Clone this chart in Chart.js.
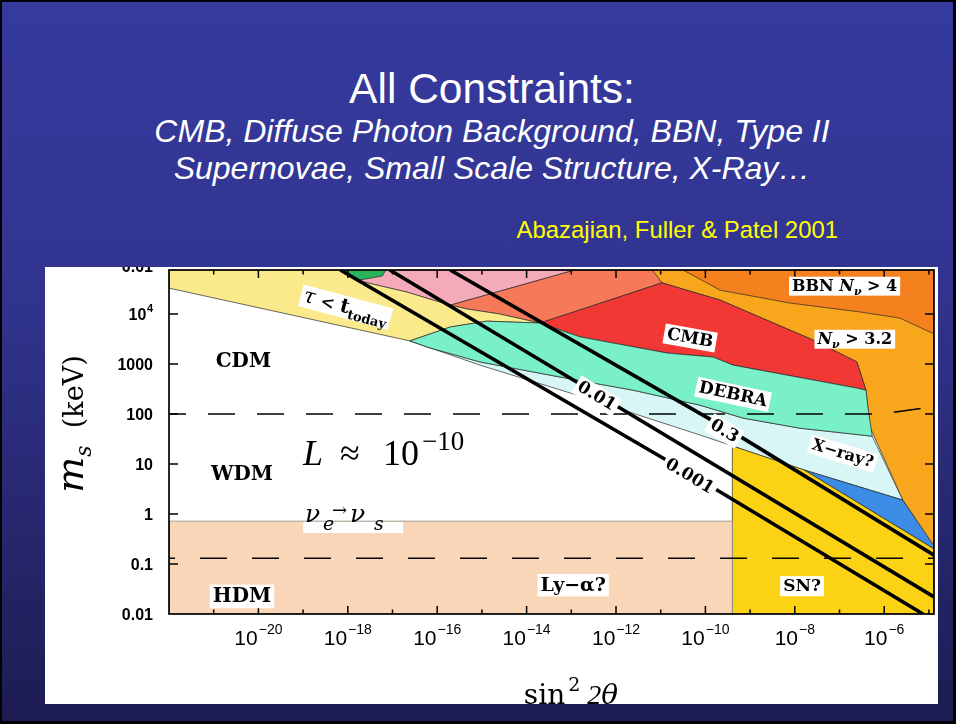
<!DOCTYPE html>
<html>
<head>
<meta charset="utf-8">
<title>All Constraints</title>
<script src="https://cdn.jsdelivr.net/npm/chart.js@4.4.1/dist/chart.umd.min.js"></script>
<style>
  html, body { margin: 0; padding: 0; width: 956px; height: 724px; overflow: hidden; background: #000; }
  #slide { position: absolute; left: 2px; top: 2px; width: 951px; height: 719px;
           background: linear-gradient(to bottom, #363a9e 0%, #31348f 40%, #1d1c52 100%); }
  .txt { position: absolute; left: 0; width: 984px; text-align: center; line-height: 1;
         font-family: "Liberation Sans", Arial, sans-serif; color: #fff; white-space: nowrap; }
  .it { font-style: italic; }
  #cite { width: 838px; text-align: right; color: #ffff00; }
  #panel { position: absolute; left: 45px; top: 267px; width: 893px; height: 437px; background: #fff; }
  #panel canvas { display: block; }
</style>
</head>
<body>
<div id="slide"></div>
<div class="txt" style="top:68px;font-size:42.5px">All Constraints:</div>
<div class="txt it" style="top:115px;font-size:32px">CMB, Diffuse Photon Background, BBN, Type II</div>
<div class="txt it" style="top:152px;font-size:32px">Supernovae, Small Scale Structure, X-Ray…</div>
<div class="txt" id="cite" style="top:218px;font-size:23.9px">Abazajian, Fuller &amp; Patel 2001</div>
<div id="panel"><canvas id="chart" width="893" height="437"></canvas></div>

<script>
// Axis extents: mixing sin^2(2θ) horizontally, sterile mass m_s (keV) vertically
const X_MIN = 1e-22, X_MAX = 1.3e-5;
const Y_MIN = 0.01, Y_MAX = 7.6e4;

// Tick decades and tick labels
const xDecades = [-22, -21, -20, -19, -18, -17, -16, -15, -14, -13, -12, -11, -10, -9, -8, -7, -6, -5];
const xLabelled = [-20, -18, -16, -14, -12, -10, -8, -6];
const yDecades = [0.01, 0.1, 1, 10, 100, 1000, 10000];
const yLabels = ['0.01', '0.1', '1', '10', '100', '1000', '10^4'];
const yTopLabel = '0.01';

// Excluded / labelled regions, each point is [sin^2 2θ, m_s in keV]
const nuOver32 = [[5.75e-12, 7.6e4], [1.3e-5, 7.6e4], [1.3e-5, 0.22], [2.6e-6, 1.9], [4.8e-7, 55], [3.9e-7, 300],
                  [2.45e-7, 1100], [2.6e-8, 3000], [2.14e-10, 1.9e4], [1.07e-11, 4.2e4]];
const bbnOver4 = [[3.16e-11, 7.6e4], [1.3e-5, 7.6e4], [1.3e-5, 4000], [2.24e-6, 8300], [2.9e-7, 1.1e4],
                  [7.8e-9, 1.66e4], [2.14e-10, 3.0e4]];
const cmbPink = [[6.8e-19, 7.6e4], [1.2e-13, 7.6e4], [1.95e-16, 1.5e4], [2.1e-17, 2.75e4], [2.2e-18, 4.4e4]];
const cmbSalmon = [[1.95e-16, 1.5e4], [1.2e-13, 7.6e4], [6.5e-12, 7.6e4], [1.07e-11, 4.2e4], [2.0e-14, 6600],
                   [2.5e-15, 1.0e4], [4.7e-16, 1.26e4]];
const cmbRed = [[2.0e-14, 6600], [1.07e-11, 4.2e4], [2.14e-10, 1.9e4], [2.6e-8, 3000], [2.45e-7, 1100], [3.9e-7, 300],
                [2.45e-7, 330], [4.2e-10, 950], [1.48e-10, 1380], [1.38e-11, 1660], [1.55e-13, 3500]];
const tauToday = [[1e-22, 7.6e4], [6.8e-19, 7.6e4], [2.2e-18, 4.4e4], [2.1e-17, 2.75e4], [1.95e-16, 1.5e4],
                  [4.7e-16, 1.26e4], [2.5e-15, 1.0e4], [2.0e-14, 6600], [1.29e-15, 7200], [1.95e-16, 5500],
                  [2.45e-17, 2900], [1e-22, 3.3e4]];
const debra = [[2.45e-17, 2900], [1.95e-16, 5500], [1.29e-15, 7200], [2.0e-14, 6600], [1.55e-13, 3500],
               [1.38e-11, 1660], [1.48e-10, 1380], [4.2e-10, 950], [2.45e-7, 330], [3.9e-7, 300], [4.4e-7, 120],
               [5.4e-7, 36], [1.32e-8, 52], [6.9e-10, 83], [7.6e-11, 150], [2.4e-12, 300], [5.6e-14, 550],
               [9.1e-16, 1100], [6.9e-17, 2100]];
const xrayFaint = [[2.45e-17, 2900], [9.1e-16, 950], [1.55e-13, 230], [7.6e-11, 38], [4.0e-10, 23], [1.62e-8, 7.6],
                   [2.6e-6, 1.9], [5.4e-7, 36], [1.32e-8, 52], [6.9e-10, 83], [7.6e-11, 150], [2.4e-12, 300],
                   [5.6e-14, 550], [9.1e-16, 1100], [6.9e-17, 2100]];
const xrayBlue = [[1.62e-8, 7.6], [2.6e-6, 1.9], [1.3e-5, 0.23], [1.3e-5, 0.2]];
const supernova = [[4.0e-10, 0.01], [4.0e-10, 23], [1.62e-8, 7.6], [1.3e-5, 0.2], [1.3e-5, 0.01]];
const lyAlpha = [[1e-22, 0.01], [4.0e-10, 0.01], [4.0e-10, 0.72], [1e-22, 0.72]];
const greenTop = [[9.1e-19, 7.6e4], [7.1e-18, 7.6e4], [5.9e-18, 5.75e4], [1.86e-18, 4.8e4], [1.23e-18, 5.5e4]];

// Contours of Ω_s h² for L ≈ 1e-10
const omega03 = [[1.95e-16, 7.6e4], [6.9e-10, 33], [1.3e-5, 0.15]];
const omega001 = [[8.7e-18, 7.6e4], [4.4e-13, 230], [1.3e-5, 0.022]];
const omega0001 = [[6.8e-19, 7.6e4], [4.6e-11, 6.3], [7.4e-6, 0.01]];

// CDM / WDM and WDM / HDM divides
const cdmWdm = [[1e-22, 100], [8.1e-7, 100], [1.3e-5, 140]];
const wdmHdm = [[1e-22, 0.13], [1.3e-5, 0.13]];

// Anchors for the text on the plot, [sin^2 2θ, m_s]
const notes = {
  cdm: [4.6e-21, 1200], wdm: [4.3e-21, 6.6], hdm: [4.3e-21, 0.024],
  lya: [1.1e-13, 0.04], sn: [1.45e-8, 0.038], cmb: [4.6e-11, 3500], debra: [4.2e-10, 260],
  xray: [1.2e-7, 17], bbn: [1.3e-7, 3.8e4], nu32: [2.2e-7, 3300], tau: [9.1e-19, 1.45e4],
  asym: [1e-19, 9.5], osc: [1e-19, 0.69],
  o03: [2.75e-10, 48], o001: [3.8e-13, 240], o0001: [4.6e-11, 6.0]
};

const toXY = pts => pts.map(p => ({ x: p[0], y: p[1] }));

function region(pts, colour, order, edge) {
  return {
    data: toXY(pts.concat([pts[0]])), showLine: true, fill: 'shape',
    backgroundColor: colour, borderColor: edge || 'rgba(35,35,35,0.85)', borderWidth: 0.8,
    pointRadius: 0, tension: 0, order, clip: 0
  };
}
function curve(pts, width, order, dash, dashOffset) {
  return {
    data: toXY(pts), showLine: true, fill: false, borderColor: '#000', borderWidth: width,
    borderDash: dash || [], borderDashOffset: dashOffset || 0,
    pointRadius: 0, tension: 0, order, clip: 0
  };
}

// back to front
const layers = [
  [nuOver32, '#f8a61c'], [bbnOver4, '#f4801e'], [cmbPink, '#f4aab9'], [cmbSalmon, '#f67a5a'],
  [cmbRed, '#f23834'], [tauToday, '#faea8c'], [xrayFaint, '#d8f6f6'], [debra, '#7af0c8'],
  [xrayBlue, '#3c8ce6'], [supernova, '#fcd214'], [lyAlpha, '#fad6b8', '#8d8d8d'], [greenTop, '#28b45a']
];
const datasets = layers.map((l, i) => region(l[0], l[1], 100 - i, l[2]));
datasets.push(curve(cdmWdm, 1.5, 2, [27, 22], 10));
datasets.push(curve(wdmHdm, 1.5, 2, [27, 25], 21));
datasets.push(curve(omega03, 3.6, 1));
datasets.push(curve(omega001, 3.6, 1));
datasets.push(curve(omega0001, 3.6, 1));

const SERIF = '"DejaVu Serif", serif';
const TIMES = '"Liberation Serif", "Times New Roman", serif';
const SANS = '"Liberation Sans", Arial, sans-serif';
const B = n => `bold ${n}px ${SERIF}`;
const BI = n => `italic bold ${n}px ${SERIF}`;
const I = n => `italic ${n}px ${SERIF}`;

// draws a run of differently styled pieces centred on (cx, cy), optionally on a white box
function rich(ctx, segs, cx, cy, deg, size, box) {
  const widths = segs.map(s => { ctx.font = s.f; return ctx.measureText(s.t).width; });
  const w = widths.reduce((a, b) => a + b, 0);
  ctx.save();
  ctx.translate(cx, cy);
  ctx.rotate(deg * Math.PI / 180);
  const base = 0.36 * size;
  if (box) {
    ctx.fillStyle = '#fff';
    ctx.fillRect(-w / 2 - 3, base - 0.88 * size, w + 6, 1.18 * size);
  }
  ctx.fillStyle = '#000';
  ctx.textAlign = 'left';
  ctx.textBaseline = 'alphabetic';
  let xx = -w / 2;
  segs.forEach((s, i) => { ctx.font = s.f; ctx.fillText(s.t, xx, base + (s.dy || 0)); xx += widths[i]; });
  ctx.restore();
}

const decor = {
  id: 'decor',
  afterDatasetsDraw(chart) {
    const { ctx, chartArea: a, scales: { x, y } } = chart;
    const at = k => [x.getPixelForValue(notes[k][0]), y.getPixelForValue(notes[k][1])];
    ctx.save();

    // frame and inward ticks
    ctx.strokeStyle = '#000';
    ctx.lineWidth = 1.7;
    ctx.strokeRect(a.left, a.top, a.right - a.left, a.bottom - a.top);
    ctx.lineWidth = 1.5;
    ctx.beginPath();
    xDecades.forEach(e => {
      const p = x.getPixelForValue(Math.pow(10, e));
      if (p < a.left + 1 || p > a.right - 1) return;
      const len = e % 2 === 0 ? 8 : 4.5;
      ctx.moveTo(p, a.bottom); ctx.lineTo(p, a.bottom - len);
      ctx.moveTo(p, a.top); ctx.lineTo(p, a.top + len);
    });
    yDecades.forEach(v => {
      const p = y.getPixelForValue(v);
      if (p > a.bottom - 1 || p < a.top + 1) return;
      ctx.moveTo(a.left, p); ctx.lineTo(a.left + 9, p);
      ctx.moveTo(a.right, p); ctx.lineTo(a.right - 9, p);
    });
    ctx.stroke();

    // x tick labels 10^n
    ctx.fillStyle = '#000';
    ctx.textBaseline = 'alphabetic';
    ctx.textAlign = 'left';
    xLabelled.forEach(e => {
      const p = x.getPixelForValue(Math.pow(10, e));
      const sup = '\u2212' + Math.abs(e);
      ctx.font = `21px ${SANS}`;
      const w1 = ctx.measureText('10').width;
      ctx.font = `14px ${SANS}`;
      const w2 = ctx.measureText(sup).width;
      const x0 = p - (w1 + w2 + 1) / 2;
      ctx.font = `21px ${SANS}`;
      ctx.fillText('10', x0, a.bottom + 31);
      ctx.font = `14px ${SANS}`;
      ctx.fillText(sup, x0 + w1 + 1, a.bottom + 20);
    });

    // y tick labels
    const yLab = (txt, p) => {
      const right = a.left - 16;
      if (txt.includes('^')) {
        const [b, e] = txt.split('^');
        ctx.font = `bold 11px ${SANS}`;
        const we = ctx.measureText(e).width;
        ctx.fillText(e, right - we, p - 2);
        ctx.font = `bold 16px ${SANS}`;
        const wb = ctx.measureText(b).width;
        ctx.fillText(b, right - we - wb - 0.5, p + 6);
      } else {
        ctx.font = `bold 16px ${SANS}`;
        ctx.fillText(txt, right - ctx.measureText(txt).width, p + 6);
      }
    };
    yDecades.forEach((v, i) => yLab(yLabels[i], y.getPixelForValue(v)));
    yLab(yTopLabel, a.top - 4);

    // axis titles
    const midY = (a.top + a.bottom) / 2 - 18;
    const ySegs = [{ t: 'm', f: `italic 38px ${SERIF}` }, { t: 's', f: `italic 22px ${SERIF}`, dy: 8 },
                   { t: '  (keV)', f: `27px ${SERIF}` }];
    const yw = ySegs.map(s => { ctx.font = s.f; return ctx.measureText(s.t).width; });
    ctx.save();
    ctx.translate(a.left - 86, midY);
    ctx.rotate(-Math.PI / 2);
    let sx = -yw.reduce((p, q) => p + q, 0) / 2;
    ySegs.forEach((s, i) => { ctx.font = s.f; ctx.fillText(s.t, sx, s.dy || 0); sx += yw[i]; });
    ctx.restore();

    const xSegs = [{ t: 'sin', f: `28px ${SERIF}` }, { t: '2', f: `19px ${SERIF}`, dy: -13 },
                   { t: ' 2', f: `italic 28px ${TIMES}` }, { t: '\u03b8', f: `italic 28px ${SERIF}` }];
    const xw = xSegs.map(s => { ctx.font = s.f; return ctx.measureText(s.t).width; });
    let tx = (a.left + a.right) / 2 + 18 - xw.reduce((p, q) => p + q, 0) / 2;
    xSegs.forEach((s, i) => { ctx.font = s.f; ctx.fillText(s.t, tx + (i === 1 ? 3 : 0), 437 + (s.dy || 0)); tx += xw[i] + (i === 1 ? 3 : 0); });

    // region labels
    rich(ctx, [{ t: 'CDM', f: B(20) }], ...at('cdm'), 0, 20, false);
    rich(ctx, [{ t: 'WDM', f: B(20) }], ...at('wdm'), 0, 20, false);
    rich(ctx, [{ t: 'HDM', f: B(20) }], ...at('hdm'), 0, 20, true);
    rich(ctx, [{ t: 'Ly\u2212\u03b1?', f: B(19) }], ...at('lya'), 0, 19, true);
    rich(ctx, [{ t: 'SN?', f: B(17) }], ...at('sn'), 0, 17, true);
    rich(ctx, [{ t: 'CMB', f: B(17) }], ...at('cmb'), 10, 17, true);
    rich(ctx, [{ t: 'DEBRA', f: B(17) }], ...at('debra'), 12, 17, true);
    rich(ctx, [{ t: 'X\u2212ray?', f: B(16) }], ...at('xray'), 17, 16, true);
    rich(ctx, [{ t: 'BBN ', f: B(16) }, { t: 'N', f: BI(16) }, { t: '\u03bd', f: BI(11), dy: 4 }, { t: ' > 4', f: B(16) }],
         ...at('bbn'), 0, 16, true);
    rich(ctx, [{ t: 'N', f: BI(16) }, { t: '\u03bd', f: BI(11), dy: 4 }, { t: ' > 3.2', f: B(16) }],
         ...at('nu32'), 0, 16, true);
    rich(ctx, [{ t: '\u03c4', f: I(21) }, { t: ' < ', f: B(17) }, { t: 't', f: B(20) }, { t: 'today', f: B(13), dy: 5 }],
         ...at('tau'), 15, 19, true);

    // Ω contour labels
    rich(ctx, [{ t: '0.3', f: B(17) }], ...at('o03'), 31, 17, true);
    rich(ctx, [{ t: '0.01', f: B(17) }], ...at('o001'), 31, 17, true);
    rich(ctx, [{ t: '0.001', f: B(17) }], ...at('o0001'), 31, 17, true);

    // L ≈ 10^-10
    const [lx, ly] = at('asym');
    ctx.fillStyle = '#000';
    ctx.font = `italic 36px ${TIMES}`; ctx.fillText('L', lx, ly);
    ctx.font = `36px ${TIMES}`; ctx.fillText('\u2248', lx + 37, ly);
    ctx.fillText('10', lx + 80, ly);
    ctx.font = `27px ${TIMES}`; ctx.fillText('\u221210', lx + 119, ly - 15);

    // ν_e → ν_s
    const [ox, oy] = at('osc');
    ctx.fillStyle = '#fff'; ctx.fillRect(ox, oy, 100, 11);
    ctx.fillStyle = '#000';
    ctx.font = `italic 25px ${SERIF}`; ctx.fillText('\u03bd', ox + 2, oy);
    ctx.font = `italic 19px ${SERIF}`; ctx.fillText('e', ox + 20, oy + 8);
    ctx.font = `18px ${SERIF}`; ctx.fillText('\u2192', ox + 29, oy - 6);
    ctx.font = `italic 25px ${SERIF}`; ctx.fillText('\u03bd', ox + 47, oy);
    ctx.font = `italic 19px ${SERIF}`; ctx.fillText('s', ox + 71, oy + 8);

    ctx.restore();
  }
};

new Chart(document.getElementById('chart'), {
  type: 'scatter',
  data: { datasets },
  options: {
    responsive: false,
    animation: false,
    events: [],
    layout: { padding: { left: 124, right: 4, top: 3, bottom: 90 } },
    plugins: { legend: { display: false }, tooltip: { enabled: false } },
    scales: {
      x: { type: 'logarithmic', min: X_MIN, max: X_MAX,
           ticks: { display: false }, grid: { display: false }, border: { display: false },
           afterFit(s) { s.height = 0; } },
      y: { type: 'logarithmic', min: Y_MIN, max: Y_MAX,
           ticks: { display: false }, grid: { display: false }, border: { display: false },
           afterFit(s) { s.width = 0; } }
    }
  },
  plugins: [decor]
});
</script>
</body>
</html>
